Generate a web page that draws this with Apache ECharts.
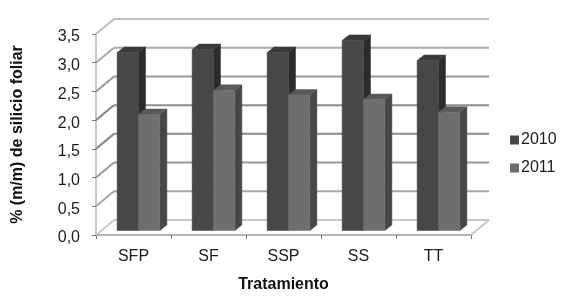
<!DOCTYPE html>
<html><head><meta charset="utf-8">
<style>html,body{margin:0;padding:0;background:#fff}#c{width:578px;height:305px}</style>
<script src="https://cdn.jsdelivr.net/npm/echarts@6/dist/echarts.min.js"></script>
</head><body><div id="c"></div>
<script>
const categories = ['SFP','SF','SSP','SS','TT'];
const values2010 = [3.10,3.15,3.10,3.31,2.96];
const values2011 = [2.02,2.44,2.36,2.28,2.06];
const yTicks = [0,0.5,1,1.5,2,2.5,3,3.5];
const gridColors = ['#c8c8c8','#a8a8a8','#999999','#8c8c8c','#8c8c8c','#999999','#a8a8a8','#bdbdbd'];
const font = '"Liberation Sans", Arial, sans-serif';
const ink = '#1c1c1c';
const WALL_DX = 18, WALL_DY = -15;
const FRONT_DX = 5, FRONT_DY = -4.5;
const DEPTH_DX = 7, DEPTH_DY = -5.5;
const BAR_FRAC = 0.285;

function poly(points, fill){
  return {type:'polygon',shape:{points},style:{fill,stroke:fill,lineWidth:0.5}};
}
function barRender(seriesIdx, front, side, top){
  return function(params, api){
    const i = api.value(0), v = api.value(1);
    const bw = api.size([1,0])[0]*BAR_FRAC;
    const c0 = api.coord([i,0]), c1 = api.coord([i,v]);
    const x0 = c0[0]+FRONT_DX-bw+seriesIdx*bw, x1 = x0+bw;
    const yb = c0[1]+FRONT_DY, yt = c1[1]+FRONT_DY;
    const d = DEPTH_DX, e = DEPTH_DY;
    return {type:'group',children:[
      poly([[x1,yb],[x1+d,yb+e],[x1+d,yt+e],[x1,yt]],side),
      poly([[x0,yt],[x1,yt],[x1+d,yt+e],[x0+d,yt+e]],top),
      poly([[x0,yb],[x1,yb],[x1,yt],[x0,yt]],front)
    ]};
  };
}
function wallRender(params, api){
  const v = api.value(0), col = gridColors[params.dataIndex];
  const a = api.coord([0,v]);
  const xs = params.coordSys;
  const lx = xs.x, rx = xs.x+xs.width, y = a[1];
  const line = (x1,y1,x2,y2,w)=>({type:'line',shape:{x1,y1,x2,y2},style:{stroke:col,lineWidth:w}});
  const ch = [
    line(lx,y,lx+WALL_DX,y+WALL_DY,2),
    line(lx+WALL_DX,y+WALL_DY,rx+WALL_DX,y+WALL_DY,2)
  ];
  if(v===0) ch.push(line(rx,y,rx+WALL_DX,y+WALL_DY,2));
  return {type:'group',children:ch};
}
const chart = echarts.init(document.getElementById('c'),null,{renderer:'canvas'});
chart.setOption({
  animation:false,
  backgroundColor:'#fff',
  grid:{left:96,right:107,top:34,bottom:70,containLabel:false},
  legend:{orient:'vertical',left:505,top:127,itemWidth:9,itemHeight:9,itemGap:12,icon:'rect',
    data:['2010','2011'],textStyle:{fontFamily:font,fontSize:16,color:ink,padding:[0,0,0,-3]}},
  xAxis:{type:'category',data:categories,
    name:'Tratamiento',nameLocation:'middle',nameGap:42,
    nameTextStyle:{fontFamily:font,fontSize:16,fontWeight:'bold',color:'#111'},
    axisLine:{show:true,lineStyle:{color:'#b5b5b5',width:2}},
    axisTick:{show:true,inside:false,length:4,alignWithLabel:false,lineStyle:{color:'#777',width:1}},
    axisLabel:{fontFamily:font,fontSize:16,color:ink,margin:14},
    splitLine:{show:false}},
  yAxis:{type:'value',min:0,max:3.5,interval:0.5,
    name:'% (m/m) de silicio foliar',nameLocation:'middle',nameGap:70,nameRotate:90,
    nameTextStyle:{fontFamily:font,fontSize:16,fontWeight:'bold',color:'#111'},
    axisLine:{show:true,lineStyle:{color:'#c8c8c8',width:2}},
    axisTick:{show:true,length:4,lineStyle:{color:'#777',width:1}},
    axisLabel:{fontFamily:font,fontSize:16,color:ink,margin:16,verticalAlign:'top',lineHeight:6,formatter:v=>v.toFixed(1).replace('.',',')},
    splitLine:{show:false}},
  series:[
    {name:'wall',type:'custom',data:yTicks.map(v=>[v]),renderItem:wallRender,silent:true,encode:{y:0},z:1},
    {name:'2010',type:'custom',data:values2010.map((v,i)=>[i,v]),encode:{x:0,y:1},
      itemStyle:{color:'#474747'},renderItem:barRender(0,'#474747','#2c2c2c','#3a3a3a'),z:2},
    {name:'2011',type:'custom',data:values2011.map((v,i)=>[i,v]),encode:{x:0,y:1},
      itemStyle:{color:'#6e6e6e'},renderItem:barRender(1,'#6e6e6e','#474747','#5a5a5a'),z:3}
  ]
});
</script></body></html>
